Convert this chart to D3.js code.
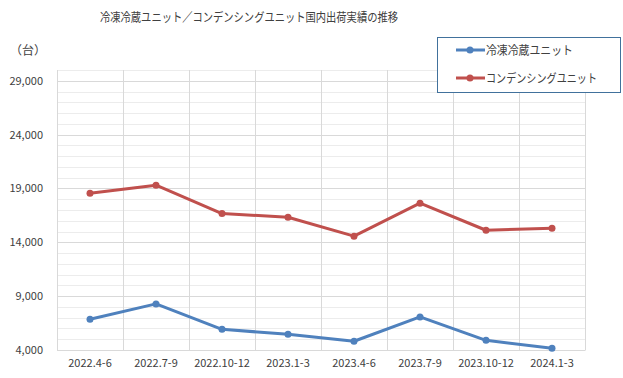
<!DOCTYPE html>
<html><head><meta charset="utf-8">
<script src="https://cdn.jsdelivr.net/npm/d3@7"></script>
<style>body{margin:0;background:#fff}svg{display:block}text{font-family:"Noto Sans CJK JP","Noto Sans",sans-serif;fill:#404040}</style>
</head><body><svg id="c" width="623" height="378"></svg>
<script>
const categories = ["2022.4-6","2022.7-9","2022.10-12","2023.1-3","2023.4-6","2023.7-9","2023.10-12","2024.1-3"];
const seriesNames = ["冷凍冷蔵ユニット","コンデンシングユニット"];
const reizoValues = [6850, 8280, 5920, 5460, 4810, 7070, 4900, 4160];
const condensingValues = [18560, 19300, 16670, 16330, 14570, 17630, 15120, 15300];
const yTicks = [4000, 9000, 14000, 19000, 24000, 29000];
const colors = ["#4F81BD", "#C0504D"];

const svg = d3.select("#c");
const L = 57, R = 585, T = 70, B = 350;
const x = d3.scaleBand().domain(categories).range([L, R]);
const y = d3.scaleLinear().domain([4000, 30000]).range([B, T]);

// minor gridlines
const minor = d3.range(5000, 30001, 1000).filter(v => (v - 4000) % 5000 !== 0);
svg.append("g").selectAll("line").data(minor).join("line")
  .attr("x1", L).attr("x2", R).attr("y1", d => Math.round(y(d)) + 0.5).attr("y2", d => Math.round(y(d)) + 0.5)
  .attr("stroke", "#ececec").attr("stroke-width", 1);
// major
svg.append("g").selectAll("line").data(yTicks).join("line")
  .attr("x1", L).attr("x2", R).attr("y1", d => Math.round(y(d)) + 0.5).attr("y2", d => Math.round(y(d)) + 0.5)
  .attr("stroke", "#d9d9d9").attr("stroke-width", 1);
// vertical gridlines
const vx = categories.map(c => x(c)).concat([R]);
svg.append("g").selectAll("line").data(vx).join("line")
  .attr("x1", d => Math.round(d) + 0.5).attr("x2", d => Math.round(d) + 0.5).attr("y1", T).attr("y2", B)
  .attr("stroke", "#d9d9d9").attr("stroke-width", 1);

// y axis
const yAxis = d3.axisLeft(y).tickValues(yTicks).tickFormat(d3.format(",")).tickSize(0).tickPadding(14);
const gy = svg.append("g").attr("transform", `translate(${L},0)`).call(yAxis);
gy.select(".domain").attr("stroke", "#d9d9d9");
gy.selectAll("text").style("font-size", "11px").attr("fill", "#404040");

// x axis
const xAxis = d3.axisBottom(x).tickSize(0).tickPadding(9);
const gx = svg.append("g").attr("transform", `translate(0,${B})`).call(xAxis);
gx.select(".domain").attr("stroke", "#d9d9d9");
gx.selectAll("text").style("font-size", "11px").attr("fill", "#404040");

// series
const series = [reizoValues, condensingValues];
const line = d3.line().x((d, i) => x(categories[i]) + x.bandwidth() / 2).y(d => y(d));
series.forEach((vals, si) => {
  svg.append("path").datum(vals).attr("d", line).attr("fill", "none")
    .attr("stroke", colors[si]).attr("stroke-width", 3).attr("stroke-linejoin", "round");
  svg.append("g").selectAll("circle").data(vals).join("circle")
    .attr("cx", (d, i) => x(categories[i]) + x.bandwidth() / 2).attr("cy", d => y(d))
    .attr("r", 3.5).attr("fill", colors[si]);
});

// title
svg.append("text").attr("x", 100).attr("y", 22)
  .attr("textLength", 298).attr("lengthAdjust", "spacingAndGlyphs")
  .style("font-size", "12.5px").text("冷凍冷蔵ユニット／コンデンシングユニット国内出荷実績の推移");
svg.append("text").attr("x", 10).attr("y", 55).style("font-size", "12px").text("（台）");

// legend
const lg = svg.append("g");
lg.append("rect").attr("x", 437.5).attr("y", 37.5).attr("width", 183).attr("height", 55)
  .attr("fill", "#fff").attr("stroke", "#41719C").attr("stroke-width", 1);
const legendLens = [87, 111];
seriesNames.forEach((n, i) => {
  const yy = 50 + i * 28;
  lg.append("line").attr("x1", 456).attr("x2", 485).attr("y1", yy).attr("y2", yy)
    .attr("stroke", colors[i]).attr("stroke-width", 3);
  lg.append("circle").attr("cx", 470).attr("cy", yy).attr("r", 3.5).attr("fill", colors[i]);
  lg.append("text").attr("x", 486).attr("y", yy + 4.5)
    .attr("textLength", legendLens[i]).attr("lengthAdjust", "spacingAndGlyphs")
    .style("font-size", "12px").text(n);
});
</script></body></html>
